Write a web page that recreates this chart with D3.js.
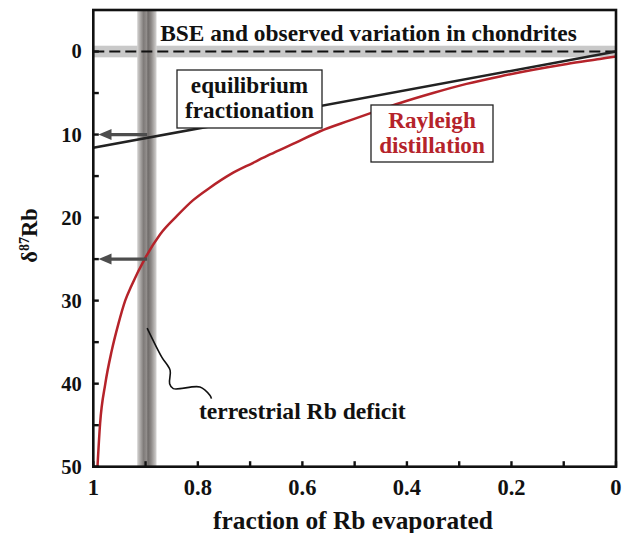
<!DOCTYPE html>
<html>
<head>
<meta charset="utf-8">
<script src="https://cdn.jsdelivr.net/npm/d3@7"></script>
<style>
  html, body { margin: 0; padding: 0; background: #fff; }
  svg { display: block; }
  text { font-family: "Liberation Serif", "Times New Roman", serif; font-weight: bold; }
</style>
</head>
<body>
<div id="chart"></div>
<script>
// ---- data ----
const xTickValues = [1, 0.8, 0.6, 0.4, 0.2, 0];
const xTickLabels = ["1", "0.8", "0.6", "0.4", "0.2", "0"];
const xMinorTicks = [0.9, 0.7, 0.5, 0.3, 0.1];
const yTickValues = [0, 10, 20, 30, 40, 50];
const yTickLabels = ["0", "10", "20", "30", "40", "50"];
const yMinorTicks = [5, 15, 25, 35, 45];

// Rayleigh distillation curve: fraction evaporated, delta87Rb
const rayleighF = [0.992, 0.987, 0.977, 0.965, 0.952, 0.939, 0.927, 0.901, 0.872, 0.840, 0.809, 0.777, 0.738, 0.694, 0.662, 0.617, 0.566, 0.509, 0.464, 0.413, 0.350, 0.286, 0.222, 0.158, 0.094, 0.031, 0.0];
const rayleighD = [50, 44.8, 40.0, 36.1, 32.8, 30.0, 28.2, 24.9, 22.0, 19.8, 17.9, 16.4, 14.8, 13.4, 12.4, 11.1, 9.6, 8.3, 7.3, 6.2, 5.0, 3.9, 3.0, 2.2, 1.5, 0.9, 0.6];

// Equilibrium fractionation line
const equilF = [1, 0];
const equilD = [11.6, 0];

// BSE / chondrite variation band (delta range) and terrestrial Rb deficit band (fraction range)
const bseBand = [-0.7, 0.7];
const deficitBand = [0.879, 0.916];
const deficitCenter = 0.897;

// arrows from deficit band to axis
const arrowD = [10, 25];
const arrowTipF = 0.99;

// leader line for "terrestrial Rb deficit"
const leaderF = [0.897, 0.869, 0.853, 0.854, 0.847, 0.796, 0.777, 0.774];
const leaderD = [33.3, 36.8, 38.4, 40.0, 40.6, 40.4, 41.4, 41.8];

// ---- layout ----
const W = 630, H = 533;
const margin = { left: 93.3, top: 10, right: 14, bottom: 66.3 };
const iw = W - margin.left - margin.right;
const ih = H - margin.top - margin.bottom;

const x = d3.scaleLinear().domain([1, 0]).range([0, iw]);
const y = d3.scaleLinear().domain([-5, 50]).range([0, ih]);

const RED = "#b5232a";

const svg = d3.select("#chart").append("svg").attr("width", W).attr("height", H);
const defs = svg.append("defs");
const grad = defs.append("linearGradient").attr("id", "vband").attr("x1", "0%").attr("x2", "100%").attr("y1", "0%").attr("y2", "0%");
[[0, "#d4d3d2"], [0.15, "#aeaba9"], [0.33, "#7f7b79"], [0.48, "#928e8c"], [0.56, "#6f6b69"], [0.72, "#8c8886"], [0.87, "#b3b0ae"], [1, "#d6d5d4"]]
  .forEach(([o, c]) => grad.append("stop").attr("offset", o).attr("stop-color", c));

const g = svg.append("g").attr("transform", `translate(${margin.left},${margin.top})`);

// horizontal BSE band
g.append("rect")
  .attr("x", 0).attr("width", iw)
  .attr("y", y(bseBand[0])).attr("height", y(bseBand[1]) - y(bseBand[0]))
  .attr("fill", "#c9c9c9");

// vertical deficit band
g.append("rect")
  .attr("x", x(deficitBand[1])).attr("width", x(deficitBand[0]) - x(deficitBand[1]))
  .attr("y", 0).attr("height", ih)
  .attr("fill", "url(#vband)");

// dashed zero line
g.append("line")
  .attr("x1", 0).attr("x2", iw).attr("y1", y(0)).attr("y2", y(0))
  .attr("stroke", "#111").attr("stroke-width", 2).attr("stroke-dasharray", "11,5");

// BSE label
g.append("text")
  .attr("x", 368.5 - margin.left).attr("y", y(0) - 11)
  .attr("text-anchor", "middle").attr("font-size", 23.4).attr("fill", "#111")
  .text("BSE and observed variation in chondrites");

// equilibrium line
const eqData = equilF.map((f, i) => [f, equilD[i]]);
g.append("path").datum(eqData)
  .attr("d", d3.line().x(d => x(d[0])).y(d => y(d[1])))
  .attr("fill", "none").attr("stroke", "#222").attr("stroke-width", 2.5);

// Rayleigh curve
const rData = rayleighF.map((f, i) => [f, rayleighD[i]]);
g.append("path").datum(rData)
  .attr("d", d3.line().x(d => x(d[0])).y(d => y(d[1])).curve(d3.curveMonotoneX))
  .attr("fill", "none").attr("stroke", RED).attr("stroke-width", 2.5);

// arrows
arrowD.forEach(d => {
  const x0 = x(deficitCenter), x1 = x(arrowTipF), yy = y(d);
  g.append("line")
    .attr("x1", x0).attr("x2", x1 + 10).attr("y1", yy).attr("y2", yy)
    .attr("stroke", "#4d4d4d").attr("stroke-width", 3.2);
  g.append("path")
    .attr("d", `M${x1},${yy} L${x1 + 13},${yy - 5.5} L${x1 + 13},${yy + 5.5} Z`)
    .attr("fill", "#4d4d4d");
});

// leader line
const lData = leaderF.map((f, i) => [f, leaderD[i]]);
g.append("path").datum(lData)
  .attr("d", d3.line().x(d => x(d[0])).y(d => y(d[1])).curve(d3.curveCatmullRom.alpha(0.5)))
  .attr("fill", "none").attr("stroke", "#111").attr("stroke-width", 1.6);

// label boxes
function labelBox(x0, y0, w, h, lines, color, baselines) {
  g.append("rect").attr("x", x0).attr("y", y0).attr("width", w).attr("height", h)
    .attr("fill", "#fff").attr("stroke", "#222").attr("stroke-width", 1.3);
  lines.forEach((t, i) => {
    g.append("text").attr("x", x0 + w / 2).attr("y", baselines[i])
      .attr("text-anchor", "middle").attr("font-size", 23.2).attr("fill", color).text(t);
  });
}
labelBox(177 - margin.left, 70 - margin.top, 145, 58, ["equilibrium", "fractionation"], "#111",
  [93 - margin.top, 118 - margin.top]);
labelBox(371 - margin.left, 105 - margin.top, 122, 57, ["Rayleigh", "distillation"], RED,
  [128 - margin.top, 153 - margin.top]);

// terrestrial label
g.append("text")
  .attr("x", 199 - margin.left).attr("y", 419 - margin.top)
  .attr("font-size", 23.6).attr("fill", "#111")
  .text("terrestrial Rb deficit");

// frame
g.append("rect").attr("x", 0).attr("y", 0).attr("width", iw).attr("height", ih)
  .attr("fill", "none").attr("stroke", "#111").attr("stroke-width", 2.6);

// ticks (inward)
const tickLen = 5.5;
xTickValues.concat(xMinorTicks).forEach(v => {
  g.append("line").attr("x1", x(v)).attr("x2", x(v)).attr("y1", ih).attr("y2", ih - tickLen)
    .attr("stroke", "#111").attr("stroke-width", 2.4);
});
yTickValues.concat(yMinorTicks).forEach(v => {
  g.append("line").attr("x1", 0).attr("x2", tickLen).attr("y1", y(v)).attr("y2", y(v))
    .attr("stroke", "#111").attr("stroke-width", 2.4);
});

// tick labels
xTickValues.forEach((v, i) => {
  g.append("text").attr("x", x(v)).attr("y", ih + 28.5)
    .attr("text-anchor", "middle").attr("font-size", 22.5).attr("fill", "#111")
    .text(xTickLabels[i]);
});
yTickValues.forEach((v, i) => {
  g.append("text").attr("x", -11.5).attr("y", y(v)).attr("dy", "0.34em")
    .attr("text-anchor", "end").attr("font-size", 20.5).attr("fill", "#111")
    .text(yTickLabels[i]);
});

// axis titles
svg.append("text")
  .attr("x", 353).attr("y", 529)
  .attr("text-anchor", "middle").attr("font-size", 25.4).attr("fill", "#111")
  .text("fraction of Rb evaporated");

const yt = svg.append("text")
  .attr("transform", "translate(37,235.5) rotate(-90)")
  .attr("text-anchor", "middle").attr("font-size", 22.5).attr("fill", "#111");
yt.append("tspan").text("δ");
yt.append("tspan").attr("font-size", 14).attr("dy", -8).text("87");
yt.append("tspan").attr("dy", 8).text("Rb");
</script>
</body>
</html>
